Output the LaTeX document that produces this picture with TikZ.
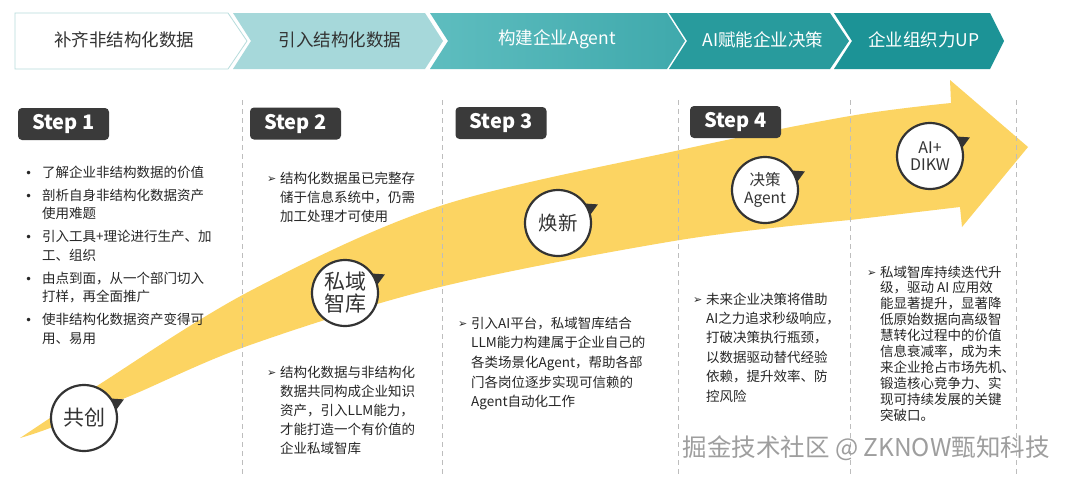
\documentclass[tikz,border=0pt]{standalone}
\usepackage{fontspec}
\setmainfont{Noto Sans CJK SC}
\newfontfamily\dvs{DejaVu Sans}
\usetikzlibrary{calc}
\definecolor{chvA}{HTML}{A6D8DA}
\definecolor{chvBl}{HTML}{5EBDBF}
\definecolor{chvBr}{HTML}{3FA9AC}
\definecolor{chvC}{HTML}{289B9D}
\definecolor{chvD}{HTML}{1C9396}
\definecolor{chvEdge}{HTML}{B7DCDC}
\definecolor{darktxt}{HTML}{333333}
\definecolor{bodytxt}{HTML}{262626}
\definecolor{stepbg}{HTML}{3A3A3A}
\definecolor{yel}{HTML}{FCD462}
\definecolor{dashc}{HTML}{BDBDBD}
\definecolor{wmc}{HTML}{9E9E9E}
\newcommand\arr{\makebox[13pt][l]{\raisebox{0.8pt}{\dvs\fontsize{11}{11}\selectfont ➢}}}
\newcommand\bul{\makebox[17pt][l]{{\dvs\fontsize{12}{12}\selectfont •}}}
\newcommand\bubptr[1]{\fill[darktxt] ([shift={(48:27pt)}]#1) -- ([shift={(25:44pt)}]#1) -- ([shift={(2:27pt)}]#1) -- cycle;}
\begin{document}
\begin{tikzpicture}[x=1pt,y=-1pt,
  hdr/.style={inner sep=0, font=\fontsize{17.5}{20}\selectfont},
  steplbl/.style={fill=stepbg, rounded corners=4pt, minimum width=91pt, minimum height=32pt, inner sep=0, text=white, font=\fontsize{20}{24}\selectfont\bfseries},
  body/.style={inner sep=0, text=bodytxt, anchor=base west},
  bub/.style={circle, draw=darktxt, line width=2.2pt, fill=white, minimum size=66pt, inner sep=0, text=darktxt, align=center},
  dsh/.style={draw=dashc, line width=0.9pt, dash pattern=on 5pt off 4pt},
  wm/.style={inner sep=0, text=wmc, font=\fontsize{24.5}{27}\selectfont}]
\useasboundingbox (0,0) rectangle (1071,479);
\fill[white] (0,0) rectangle (1071,479);
% header chevrons
\fill[white] (15,13) -- (228,13) -- (247,41) -- (228,69) -- (15,69) -- cycle;
\draw[chvEdge, line width=0.8pt] (15,13) -- (228,13) -- (247,41) -- (228,69) -- (15,69) -- cycle;
\fill[chvA] (233,13) -- (425,13) -- (443,41) -- (425,69) -- (233,69) -- (251,41) -- cycle;
\shade[left color=chvBl, right color=chvBr] (430,13) -- (667,13) -- (685,41) -- (667,69) -- (430,69) -- (448,41) -- cycle;
\fill[chvC] (669,13) -- (830,13) -- (849,41) -- (830,69) -- (669,69) -- (687,41) -- cycle;
\fill[chvD] (834,13) -- (990,13) -- (1004,41) -- (990,69) -- (834,69) -- (852,41) -- cycle;
\node[hdr, text=darktxt] (h1) at (124,40) {补齐非结构化数据};
\node[hdr, text=darktxt] (h2) at (340,40) {引入结构化数据};
\node[hdr, text=white] (h3) at (557,39) {构建企业Agent};
\node[hdr, text=white] (h4) at (763,40) {AI赋能企业决策};
\node[hdr, text=white] (h5) at (924,40) {企业组织力UP};
% yellow swoosh arrow
\fill[yel] plot[smooth, tension=0.55] coordinates {(20,438) (50,418) (100,384) (250,291) (440,206) (680,150) (850,116) (951,103)}
  -- (950,80) -- (1028,147) -- (962,227) -- (960,207)
  -- plot[smooth, tension=0.55] coordinates {(850,220) (680,240) (440,287) (250,345) (130,396) (50,428) (20,438)} -- cycle;
% dashed separators
\draw[dsh] (242,100) -- (242,476);
\draw[dsh] (442,100) -- (442,476);
\draw[dsh] (678,100) -- (678,476);
\draw[dsh] (850,100) -- (850,476);
\draw[dsh] (1016,100) -- (1016,476);
% step labels
\node[steplbl] (s1) at (63.5,124) {Step 1};
\node[steplbl] (s2) at (295.5,123.5) {Step 2};
\node[steplbl] (s3) at (501,123) {Step 3};
\node[steplbl] (s4) at (735.5,122) {Step 4};
% texts
\node[body, font=\fontsize{13.5}{18.5}\selectfont] (t1) at (25,177) {\begin{tabular}[t]{@{}l@{}l@{}}
\bul & 了解企业非结构数据的价值\\[4.5pt]
\bul & 剖析自身非结构化数据资产\\
 & 使用难题\\[4.5pt]
\bul & 引入工具+理论进行生产、加\\
 & 工、组织\\[4.5pt]
\bul & 由点到面，从一个部门切入\\
 & 打样，再全面推广\\[4.5pt]
\bul & 使非结构化数据资产变得可\\
 & 用、易用
\end{tabular}};
\node[body, font=\fontsize{13.5}{19.2}\selectfont] (t2a) at (267,183) {\begin{tabular}[t]{@{}l@{}l@{}}
\arr & 结构化数据虽已完整存\\
 & 储于信息系统中，仍需\\
 & 加工处理才可使用
\end{tabular}};
\node[body, font=\fontsize{13.5}{19.2}\selectfont] (t2b) at (267,377) {\begin{tabular}[t]{@{}l@{}l@{}}
\arr & 结构化数据与非结构化\\
 & 数据共同构成企业知识\\
 & 资产，引入LLM能力，\\
 & 才能打造一个有价值的\\
 & 企业私域智库
\end{tabular}};
\node[body, font=\fontsize{13.5}{19.7}\selectfont] (t3) at (458,328) {\begin{tabular}[t]{@{}l@{}l@{}}
\arr & 引入AI平台，私域智库结合\\
 & LLM能力构建属于企业自己的\\
 & 各类场景化Agent，帮助各部\\
 & 门各岗位逐步实现可信赖的\\
 & Agent自动化工作
\end{tabular}};
\node[body, font=\fontsize{13.5}{19.4}\selectfont] (t4) at (693,304) {\begin{tabular}[t]{@{}l@{}l@{}}
\arr & 未来企业决策将借助\\
 & AI之力追求秒级响应，\\
 & 打破决策执行瓶颈，\\
 & 以数据驱动替代经验\\
 & 依赖，提升效率、防\\
 & 控风险
\end{tabular}};
\node[body, font=\fontsize{13.5}{15}\selectfont] (t5) at (867,277) {\begin{tabular}[t]{@{}l@{}l@{}}
\arr & 私域智库持续迭代升\\
 & 级，驱动 AI 应用效\\
 & 能显著提升，显著降\\
 & 低原始数据向高级智\\
 & 慧转化过程中的价值\\
 & 信息衰减率，成为未\\
 & 来企业抢占市场先机、\\
 & 锻造核心竞争力、实\\
 & 现可持续发展的关键\\
 & 突破口。
\end{tabular}};
% bubbles
\coordinate (p1) at (84,418);
\coordinate (p2) at (345,293);
\coordinate (p3) at (558,223);
\coordinate (p4) at (765,190);
\coordinate (p5) at (930,156);
\bubptr{p1}\bubptr{p2}\bubptr{p3}\bubptr{p4}\bubptr{p5}
\node[bub, font=\fontsize{21}{22}\selectfont] (c1) at (p1) {共创};
\node[bub, font=\fontsize{21}{22}\selectfont] (c2) at (p2) {私域\\智库};
\node[bub, font=\fontsize{19.5}{21}\selectfont] (c3) at (p3) {焕新};
\node[bub, font=\fontsize{15.5}{18}\selectfont] (c4) at (p4) {决策\\Agent};
\node[bub, font=\fontsize{16}{17}\selectfont] (c5) at (p5) {AI+\\DIKW};
% watermark caption
\node[wm] (wm) at (866,448) {掘金技术社区 @ ZKNOW甄知科技};
\end{tikzpicture}
\end{document}
